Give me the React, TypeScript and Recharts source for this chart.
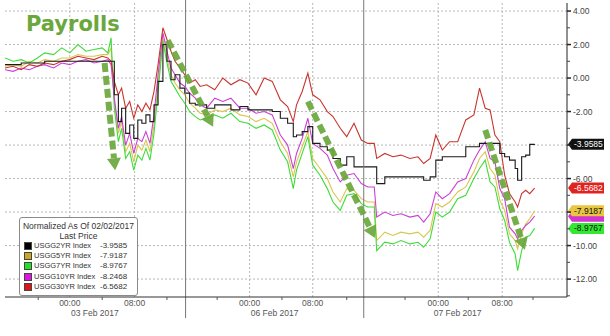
import React from "react";
import {
	LineChart,
	Line,
	XAxis,
	YAxis,
	ReferenceLine,
	ReferenceDot,
	Legend,
} from "recharts";

// Bloomberg trading time, hours since the 2 Feb afternoon (weekend gap squeezed out)
const hours = [
	0, 1, 2, 3, 4, 4.9, 6, 7, 8, 9, 10, 11, 12, 12.7, 13.1, 13.5, 14, 14.4, 14.9,
	15.4, 15.9, 16.4, 16.9, 17.4, 17.9, 18.4, 18.9, 19.5, 20, 20.5, 21, 21.6, 22.2,
	22.8, 23.5, 24.1, 24.9, 25.9, 26.9, 27.9, 29, 30, 31, 32, 33, 34, 34.9, 35.6,
	36, 36.7, 37.4, 38, 38.9, 39.8, 40.5, 41.4, 42.2, 43.1, 44, 44.8, 45.6, 45.9,
	46.9, 47.9, 48.9, 50, 51, 51.7, 52.5, 53.2, 54, 54.9, 55.9, 56.9, 57.9, 58.6,
	59.3, 59.9, 60.5, 61.1, 61.7, 62.3, 63, 63.3, 63.8, 64.3, 64.8, 65.4,
];

// yield change in bp, normalized as of 02/02/2017
const usgg2 = [
	0.8, 0.8, 0.9, 0.9, 0.9, 1.0, 1.0, 1.0, 1.0, 1.0,
	1.0, 1.0, 1.0, 1.0, 1.0, -1.0, -2.6, -1.8, -3.3, -2.8,
	-3.6, -2.5, -2.7, -2.2, -2.6, -1.6, -0.2, 2.0, 1.0, -0.1,
	0.2, -0.6, -0.9, -1.5, -1.6, -1.6, -1.8, -1.6, -1.6, -1.9,
	-1.7, -1.9, -1.9, -1.9, -2.0, -2.4, -2.7, -3.5, -3.4, -3.2,
	-2.9, -3.9, -4.1, -4.3, -4.8, -5.2, -4.7, -5.3, -5.3, -5.3,
	-5.3, -6.3, -5.9, -5.9, -5.9, -5.9, -5.9, -6.1, -5.9, -4.9,
	-4.7, -4.7, -4.7, -4.1, -4.1, -3.9, -3.9, -3.9, -3.9, -4.5,
	-4.7, -4.9, -5.4, -6.1, -4.7, -4.6, -3.96, -3.9585,
];
const usgg5 = [
	0.7, 0.8, 0.7, 1.0, 0.9, 1.1, 1.0, 1.2, 1.2, 1.4,
	1.3, 1.3, 1.4, 1.4, 1.8, -1.4, -3.3, -2.6, -4.4, -3.9,
	-5.0, -4.0, -4.3, -3.7, -4.4, -2.8, -0.4, 2.4, 1.2, 0.2,
	-0.3, -0.7, -1.0, -1.5, -1.8, -2.1, -2.2, -1.9, -2.0, -1.8,
	-2.2, -2.3, -2.6, -2.4, -2.7, -3.8, -4.5, -5.9, -5.0, -4.1,
	-3.2, -4.8, -5.4, -6.0, -6.8, -7.4, -6.6, -6.7, -7.2, -7.4,
	-7.4, -9.7, -9.2, -9.4, -9.2, -9.3, -9.2, -9.5, -9.1, -7.5,
	-7.7, -7.4, -6.8, -6.5, -5.6, -4.8, -4.4, -5.4, -5.8, -7.3,
	-7.9, -9.3, -9.7, -10.2, -9.3, -8.7, -8.4, -7.9187,
];
const usgg7 = [
	1.2, 1.0, 1.1, 0.9, 1.2, 1.5, 1.4, 1.8, 1.5, 2.0,
	1.6, 1.7, 1.8, 1.5, 2.4, -1.8, -3.8, -3.0, -4.8, -4.4,
	-5.5, -4.6, -4.9, -4.2, -4.9, -3.3, -0.8, 2.2, 0.9, -0.2,
	-0.6, -1.1, -1.5, -2.0, -2.3, -2.5, -2.4, -2.2, -2.4, -2.1,
	-2.6, -2.7, -3.0, -2.8, -3.1, -4.3, -5.0, -6.6, -5.5, -4.5,
	-3.5, -5.2, -5.8, -6.6, -7.4, -7.9, -7.0, -6.9, -7.5, -7.7,
	-7.7, -10.3, -9.8, -9.9, -9.7, -9.9, -9.8, -10.1, -9.6, -8.0,
	-8.3, -8.0, -7.2, -7.0, -6.0, -5.4, -4.9, -6.2, -6.5, -7.8,
	-8.5, -9.8, -10.5, -11.5, -10.3, -9.5, -9.4, -8.9767,
];
const usgg10 = [
	0.5, 0.4, 0.6, 0.5, 0.7, 0.8, 0.6, 0.9, 0.8, 1.0,
	1.1, 0.9, 1.0, 1.1, 0.8, -1.2, -3.0, -2.3, -4.0, -3.3,
	-4.5, -3.6, -3.8, -3.2, -3.9, -2.2, 0.2, 2.7, 1.6, 0.6,
	0.2, -0.3, -0.5, -0.9, -1.2, -1.6, -1.8, -1.2, -1.4, -1.2,
	-1.8, -1.8, -2.1, -2.0, -2.2, -3.4, -4.0, -5.4, -4.5, -3.6,
	-2.4, -3.9, -4.2, -4.6, -5.4, -6.2, -5.8, -5.7, -6.3, -6.5,
	-6.5, -8.3, -8.0, -8.2, -8.1, -8.3, -8.2, -8.6, -8.1, -6.8,
	-7.2, -6.9, -6.2, -6.0, -4.9, -4.3, -3.8, -4.8, -5.0, -6.6,
	-7.2, -8.9, -9.3, -9.6, -9.1, -8.8, -8.6, -8.2468,
];
const usgg30 = [
	0.6, 0.7, 0.5, 0.8, 0.7, 0.9, 0.8, 1.0, 1.1, 1.3,
	1.2, 1.1, 1.3, 1.2, 1.0, -0.2, -1.0, -0.6, -1.8, -1.4,
	-2.4, -1.6, -2.0, -1.5, -1.9, -0.8, 0.8, 3.0, 2.3, 1.6,
	1.0, 0.6, 0.2, -0.3, -0.1, -0.5, -0.4, -0.7, 0.0, -0.4,
	-0.1, -0.3, -1.0, 0.0, -0.2, -1.3, -1.7, -2.6, -1.6, -0.8,
	0.3, -1.0, -1.3, -2.0, -2.3, -3.0, -3.5, -2.7, -3.7, -3.9,
	-3.9, -4.8, -4.5, -4.7, -4.6, -4.8, -4.7, -5.1, -4.8, -3.4,
	-4.3, -3.8, -3.8, -2.5, -2.2, -0.6, -1.8, -1.9, -3.4, -3.8,
	-5.8, -6.9, -7.4, -7.7, -6.9, -6.7, -6.9, -6.5682,
];

const seriesNames = [
	"USGG2YR Index",
	"USGG5YR Index",
	"USGG7YR Index",
	"USGG10YR Index",
	"USGG30YR Index",
];
const lastPrices = [-3.9585, -7.9187, -8.9767, -8.2468, -6.5682];

// x axis labels
const timeTicks = [8, 16, 30.2, 38, 53.5, 61.4];
const timeLabels = ["00:00", "08:00", "00:00", "08:00", "00:00", "08:00"];
const dateTicks = [11.1, 33.3, 55.9];
const dateLabels = ["03 Feb 2017", "06 Feb 2017", "07 Feb 2017"];
const minorTicks = [4.1, 12, 20, 26.2, 34.2, 42.2, 49.4, 57.2, 65.2];
const sessionBreaks = [22.3, 44.3];

// y axis (-4 and -8 sit under the price badges, so no label there)
const yMajor = [4, 2, 0, -2, -4, -6, -8, -10, -12];
const yHiddenLabels = [-4, -8];
const yMinor = [3, 1, -1, -3, -5, -7, -9, -11, -13];

// the green "selloff" arrows drawn over the chart
const arrowSegments = [
	[{ x: 12.3, y: 0.9 }, { x: 13.6, y: -5.5 }],
	[{ x: 20.1, y: 2.25 }, { x: 25.7, y: -2.9 }],
	[{ x: 37.4, y: -1.4 }, { x: 45.7, y: -9.55 }],
	[{ x: 59.3, y: -3.1 }, { x: 64.2, y: -10.25 }],
];

const keys = ["y2", "y5", "y7", "y10", "y30"];
const lineColors = ["#1a1a1a", "#d9c64e", "#3fdc3a", "#cc3fd4", "#c8352e"];
const legendColors = ["#000000", "#c9a722", "#22e022", "#e014e0", "#e01414"];
const badgeFill = ["#111111", "#e8c640", "#33e833", "#d233d2", "#e0231f"];
const badgeText = ["#ffffff", "#111111", "#111111", "#ffffff", "#ffffff"];
// the 10YR badge is almost fully covered in the original, its number is not shown
const badgeShowsText = [true, true, true, false, true];
// draw order of lines and of the price badges
const lineOrder = [1, 2, 3, 4, 0];
const badgeOrder = [3, 0, 4, 1, 2];

const GREEN = "#6aa83b";
const FONT = "'Liberation Sans', Arial, sans-serif";

const rows = hours.map((t, i) => ({
	t,
	y2: usgg2[i],
	y5: usgg5[i],
	y7: usgg7[i],
	y10: usgg10[i],
	y30: usgg30[i],
}));

const XTick = (props: any) => {
	const { x, y, payload } = props;
	const v = payload.value;
	const ti = timeTicks.indexOf(v);
	if (ti >= 0) {
		return (
			<text x={x} y={y} dy={9} textAnchor="middle" fontSize={8.5} fontFamily={FONT} fill="#555">
				{timeLabels[ti]}
			</text>
		);
	}
	const di = dateTicks.indexOf(v);
	if (di >= 0) {
		return (
			<text x={x} y={y} dy={19} textAnchor="middle" fontSize={8.5} fontFamily={FONT} fill="#555">
				{dateLabels[di]}
			</text>
		);
	}
	return <line x1={x} x2={x} y1={y} y2={y + 3} stroke="#555" />;
};

const YTick = (props: any) => {
	const { x, y, payload } = props;
	const v = payload.value;
	if (yMajor.indexOf(v) >= 0) {
		return (
			<g>
				<line x1={x} x2={x + 4} y1={y} y2={y} stroke="#222" strokeWidth={1.5} />
				{yHiddenLabels.indexOf(v) < 0 && (
					<text x={x + 6} y={y} dy={3} fontSize={8.5} fontFamily={FONT} fill="#444">
						{v.toFixed(2)}
					</text>
				)}
			</g>
		);
	}
	return <line x1={x} x2={x + 3} y1={y} y2={y} stroke="#444" />;
};

// solid session divider, runs past the plot into the date row
const SessionBreak = (p: any) => {
	const top = Math.min(p.y1, p.y2) - 3;
	const bottom = Math.max(p.y1, p.y2) + 21;
	return <line x1={p.x1} x2={p.x2} y1={top} y2={bottom} stroke="#777" strokeWidth={1} />;
};

const DashedArrow = (p: any) => {
	const { x1, y1, x2, y2 } = p;
	const dx = x2 - x1;
	const dy = y2 - y1;
	const len = Math.sqrt(dx * dx + dy * dy);
	const ux = dx / len;
	const uy = dy / len;
	const head = 12;
	const bx = x2 - ux * head;
	const by = y2 - uy * head;
	const w = 7;
	return (
		<g opacity={0.92}>
			<line
				x1={x1}
				y1={y1}
				x2={bx}
				y2={by}
				stroke={GREEN}
				strokeWidth={6}
				strokeDasharray="9 4"
			/>
			<polygon
				points={`${x2},${y2} ${bx - uy * w},${by + ux * w} ${bx + uy * w},${by - ux * w}`}
				fill={GREEN}
			/>
		</g>
	);
};

const makeBadge = (i: number) => (p: any) => {
	const { cx, cy } = p;
	return (
		<g>
			<path
				d={`M${cx + 1},${cy} L${cx + 5},${cy - 5.5} H${cx + 37} V${cy + 5.5} H${cx + 5} Z`}
				fill={badgeFill[i]}
			/>
			{badgeShowsText[i] && (
				<text x={cx + 7} y={cy + 3} fontSize={8.5} fontFamily={FONT} fill={badgeText[i]}>
					{lastPrices[i].toFixed(4)}
				</text>
			)}
		</g>
	);
};

const LegendBox = () => (
	<div
		style={{
			width: 119,
			height: 79,
			boxSizing: "border-box",
			border: "1px solid #8a8a8a",
			borderRadius: 3,
			background: "#fff",
			paddingTop: 4,
			fontFamily: FONT,
			color: "#333",
		}}
	>
		<div style={{ fontSize: 8.5, lineHeight: "9.5px", textAlign: "center" }}>
			Normalized As Of 02/02/2017
		</div>
		<div style={{ fontSize: 8.5, lineHeight: "9.5px", textAlign: "center" }}>
			Last Price
		</div>
		{seriesNames.map((name, i) => (
			<div
				key={name}
				style={{
					display: "flex",
					alignItems: "center",
					height: 10.2,
					lineHeight: "10px",
				}}
			>
				<span
					style={{
						width: 6,
						height: 6,
						marginLeft: 4,
						marginRight: 2,
						background: legendColors[i],
						border: "1px solid #444",
						flex: "none",
					}}
				/>
				<span style={{ width: 66, fontSize: 7.5, whiteSpace: "nowrap", flex: "none" }}>
					{name}
				</span>
				<span style={{ fontSize: 8, whiteSpace: "nowrap" }}>{lastPrices[i].toFixed(4)}</span>
			</div>
		))}
	</div>
);

export default function App() {
	const xTicks = [...timeTicks, ...minorTicks, ...dateTicks].sort((a, b) => a - b);
	const yTicks = [...yMajor, ...yMinor].sort((a, b) => b - a);

	return (
		<div
			style={{
				position: "absolute",
				left: 0,
				top: 0,
				width: 610,
				height: 336,
				background: "#fff",
			}}
		>
			<LineChart
				width={610}
				height={336}
				data={rows}
				margin={{ top: 3, right: 0, bottom: 0, left: 5 }}
			>
				<XAxis
					dataKey="t"
					type="number"
					domain={[0, 69.4]}
					allowDataOverflow
					ticks={xTicks}
					interval={0}
					tick={<XTick />}
					tickLine={false}
					tickSize={0}
					tickMargin={0}
					height={39}
					axisLine={{ stroke: "#333" }}
				/>
				<YAxis
					orientation="right"
					type="number"
					domain={[-13.07, 4.48]}
					allowDataOverflow
					ticks={yTicks}
					interval={0}
					tick={<YTick />}
					tickLine={false}
					tickSize={0}
					tickMargin={0}
					width={43}
					axisLine={{ stroke: "#222" }}
				/>
				{yMajor.map((v) => (
					<ReferenceLine key={"h" + v} y={v} stroke="#b8b8b8" strokeDasharray="2 2" />
				))}
				{timeTicks.map((t) => (
					<ReferenceLine key={"v" + t} x={t} stroke="#b8b8b8" strokeDasharray="2 2" />
				))}
				{lineOrder.map((i) => (
					<Line
						key={keys[i]}
						dataKey={keys[i]}
						name={seriesNames[i]}
						stroke={lineColors[i]}
						strokeWidth={1.1}
						type={i === 0 ? "stepAfter" : "linear"}
						dot={false}
						isAnimationActive={false}
					/>
				))}
				{sessionBreaks.map((t) => (
					<ReferenceLine key={"s" + t} x={t} stroke="#777" shape={SessionBreak} />
				))}
				{arrowSegments.map((seg, k) => (
					<ReferenceLine key={"a" + k} segment={seg} stroke={GREEN} shape={DashedArrow} />
				))}
				{badgeOrder.map((i) => (
					<ReferenceDot
						key={"b" + i}
						x={69.4}
						y={lastPrices[i]}
						r={0}
						shape={makeBadge(i)}
					/>
				))}
				<Legend
					layout="vertical"
					align="center"
					verticalAlign="middle"
					wrapperStyle={{ left: 19, top: 217, width: 119, height: 79 }}
					content={() => <LegendBox />}
				/>
			</LineChart>
			<div
				style={{
					position: "absolute",
					left: 26,
					top: 14,
					fontFamily: "'DejaVu Sans', sans-serif",
					fontWeight: "bold",
					fontSize: 21,
					lineHeight: "21px",
					color: GREEN,
				}}
			>
				Payrolls
			</div>
		</div>
	);
}
